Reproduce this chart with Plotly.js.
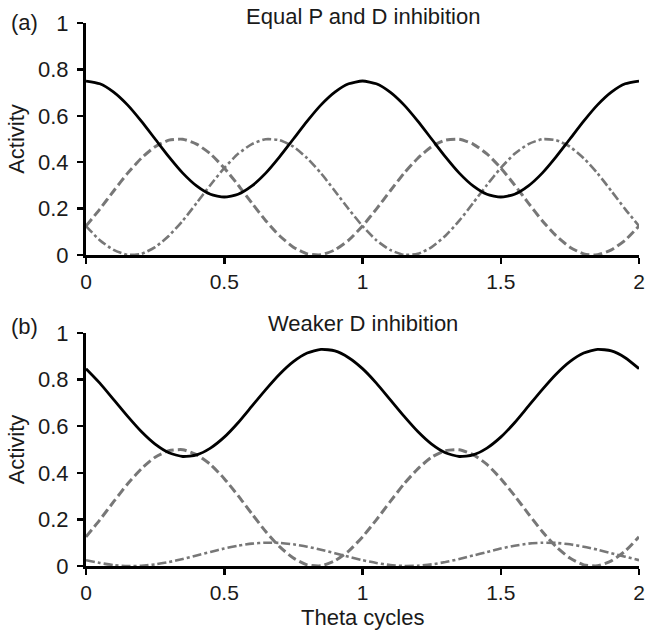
<!DOCTYPE html>
<html>
<head>
<meta charset="utf-8">
<script src="https://cdn.plot.ly/plotly-3.0.1.min.js"></script>
<style>html,body{margin:0;padding:0;background:#fff;}#chart{width:645px;height:635px;}</style>
</head>
<body>
<div id="chart"></div>
<script>
// Theta cycles (x), sampled every 0.05
const theta = [0,0.05,0.1,0.15,0.2,0.25,0.3,0.35,0.4,0.45,0.5,0.55,0.6,0.65,0.7,0.75,0.8,0.85,0.9,0.95,1,
  1.05,1.1,1.15,1.2,1.25,1.3,1.35,1.4,1.45,1.5,1.55,1.6,1.65,1.7,1.75,1.8,1.85,1.9,1.95,2];

// (a) Equal P and D inhibition
const aSolid = [0.75,0.738,0.702,0.647,0.577,0.5,0.423,0.353,0.298,0.262,0.25,0.262,0.298,0.353,0.423,0.5,0.577,0.647,0.702,0.738,0.75,
  0.738,0.702,0.647,0.577,0.5,0.423,0.353,0.298,0.262,0.25,0.262,0.298,0.353,0.423,0.5,0.577,0.647,0.702,0.738,0.75];
const aDash = [0.125,0.198,0.276,0.352,0.417,0.467,0.495,0.499,0.478,0.436,0.375,0.302,0.224,0.148,0.083,0.034,0.005,0.001,0.022,0.064,0.125,
  0.198,0.276,0.352,0.417,0.467,0.495,0.499,0.478,0.436,0.375,0.302,0.224,0.148,0.083,0.034,0.005,0.001,0.022,0.064,0.125];
const aDashDot = [0.125,0.064,0.022,0.001,0.005,0.034,0.083,0.148,0.224,0.302,0.375,0.436,0.478,0.499,0.495,0.467,0.417,0.352,0.276,0.198,0.125,
  0.064,0.022,0.001,0.005,0.034,0.083,0.148,0.224,0.302,0.375,0.436,0.478,0.499,0.495,0.467,0.417,0.352,0.276,0.198,0.125];

// (b) Weaker D inhibition
const bSolid = [0.847,0.785,0.714,0.643,0.577,0.523,0.486,0.470,0.477,0.506,0.553,0.615,0.686,0.757,0.823,0.877,0.914,0.930,0.923,0.894,0.847,
  0.785,0.714,0.643,0.577,0.523,0.486,0.470,0.477,0.506,0.553,0.615,0.686,0.757,0.823,0.877,0.914,0.930,0.923,0.894,0.847];
const bDash = [0.125,0.198,0.276,0.352,0.417,0.467,0.495,0.499,0.478,0.436,0.375,0.302,0.224,0.148,0.083,0.034,0.005,0.001,0.022,0.064,0.125,
  0.198,0.276,0.352,0.417,0.467,0.495,0.499,0.478,0.436,0.375,0.302,0.224,0.148,0.083,0.034,0.005,0.001,0.022,0.064,0.125];
const bDashDot = [0.025,0.013,0.004,0.000,0.001,0.007,0.017,0.030,0.045,0.060,0.075,0.087,0.096,0.100,0.099,0.093,0.083,0.070,0.055,0.040,0.025,
  0.013,0.004,0.000,0.001,0.007,0.017,0.030,0.045,0.060,0.075,0.087,0.096,0.100,0.099,0.093,0.083,0.070,0.055,0.040,0.025];

const xTicks = [0,0.5,1,1.5,2];
const xTickText = ['0','0.5','1','1.5','2'];
const yTicks = [0,0.2,0.4,0.6,0.8,1];
const yTickText = ['0','0.2','0.4','0.6','0.8','1'];

const panelTitles = ['Equal P and D inhibition','Weaker D inhibition'];
const panelLabels = ['(a)','(b)'];
const xTitle = 'Theta cycles';
const yTitle = 'Activity';

const FONT = 'Liberation Sans, Arial, sans-serif';
const GREY = '#777777';
const TXT = '#1a1a1a';
const FS = 22;
const TFS = 21;

function mk(y, xa, ya, style) {
  const line = {color: style.color, width: style.width, shape: 'spline', smoothing: 0.6};
  if (style.dash) line.dash = style.dash;
  return {x: theta, y: y, xaxis: xa, yaxis: ya, mode: 'lines', line: line, hoverinfo: 'skip', showlegend: false};
}
const sSolid = {color: '#000', width: 2.8};
const sDash = {color: GREY, width: 3, dash: '9px,4px'};
const sDashDot = {color: GREY, width: 2.6, dash: '9px,3px,3px,3px'};

const data = [
  mk(aDashDot, 'x', 'y', sDashDot),
  mk(aDash, 'x', 'y', sDash),
  mk(aSolid, 'x', 'y', sSolid),
  mk(bDashDot, 'x2', 'y2', sDashDot),
  mk(bDash, 'x2', 'y2', sDash),
  mk(bSolid, 'x2', 'y2', sSolid)
];

function xAx(anchor) {
  return {
    range: [0, 2], anchor: anchor, domain: [0, 1],
    tickmode: 'array', tickvals: xTicks, ticktext: xTickText,
    ticks: 'outside', ticklen: 6, tickwidth: 2.5, tickcolor: '#000',
    ticklabelstandoff: 0, ticklabeloverflow: 'allow',
    showline: true, linecolor: '#000', linewidth: 3,
    showgrid: false, zeroline: false,
    tickfont: {family: FONT, size: TFS, color: TXT}
  };
}
function yAx(anchor, domain) {
  return {
    range: [0, 1], anchor: anchor, domain: domain,
    tickmode: 'array', tickvals: yTicks, ticktext: yTickText,
    ticks: 'outside', ticklen: 6, tickwidth: 2.5, tickcolor: '#000',
    ticklabelstandoff: 4, ticklabeloverflow: 'allow',
    showline: true, linecolor: '#000', linewidth: 3,
    showgrid: false, zeroline: false,
    tickfont: {family: FONT, size: FS, color: TXT},
    title: {text: yTitle, font: {family: FONT, size: FS, color: TXT}, standoff: 8}
  };
}

const layout = {
  width: 645, height: 635,
  margin: {l: 86, r: 6, t: 23, b: 69},
  paper_bgcolor: '#fff', plot_bgcolor: '#fff',
  showlegend: false,
  xaxis: xAx('y'),
  yaxis: yAx('x', [0.5727, 1]),
  xaxis2: xAx('y2'),
  yaxis2: yAx('x2', [0, 0.4291]),
  annotations: [
    {text: panelTitles[0], xref: 'paper', yref: 'paper', x: 0.5, y: 1.0, yshift: 7, xanchor: 'center', yanchor: 'middle', showarrow: false, font: {family: FONT, size: FS, color: TXT}},
    {text: panelTitles[1], xref: 'paper', yref: 'paper', x: 0.5, y: 0.4291, yshift: 9, xanchor: 'center', yanchor: 'middle', showarrow: false, font: {family: FONT, size: FS, color: TXT}},
    {text: panelLabels[0], xref: 'paper', yref: 'paper', x: 0, xshift: -62, y: 1.0, yshift: 1, xanchor: 'center', yanchor: 'middle', showarrow: false, font: {family: FONT, size: FS, color: TXT}},
    {text: panelLabels[1], xref: 'paper', yref: 'paper', x: 0, xshift: -62, y: 0.4291, yshift: 6, xanchor: 'center', yanchor: 'middle', showarrow: false, font: {family: FONT, size: FS, color: TXT}},
    {text: xTitle, xref: 'paper', yref: 'paper', x: 0.5, y: 0, yshift: -51, xanchor: 'center', yanchor: 'middle', showarrow: false, font: {family: FONT, size: FS, color: TXT}}
  ]
};

Plotly.newPlot('chart', data, layout, {staticPlot: true, displayModeBar: false});
</script>
</body>
</html>
